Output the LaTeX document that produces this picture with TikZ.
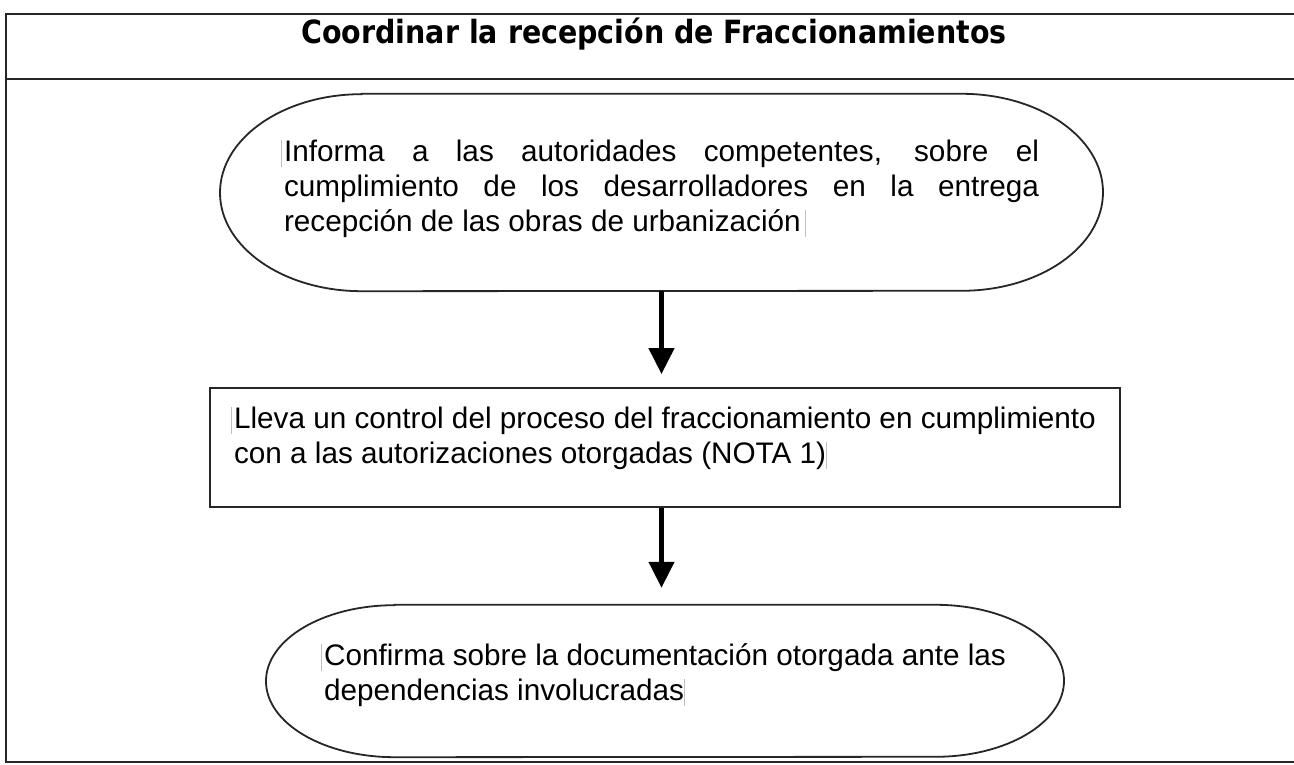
\documentclass[tikz,border=0pt]{standalone}
\usepackage{fontspec}
\setmainfont{Liberation Sans}
\newfontfamily\titlefont{DejaVu Sans}[FakeStretch=0.89]
\usetikzlibrary{arrows.meta}
\newcommand\cbar{\textcolor{black!25}{\rule[-5pt]{0.8pt}{27pt}}}
\begin{document}
\begin{tikzpicture}[x=1pt,y=1pt,
  frameline/.style={line width=1.8pt, draw=black!85},
  outline/.style={line width=1.8pt, draw=black!85},
  txt/.style={font=\fontsize{29.7pt}{35pt}\selectfont, align=left, inner sep=0pt},
  flowarrow/.style={line width=4.5pt, draw=black, -{Triangle[width=25pt,length=26pt]}},
]
\useasboundingbox[fill=white] (0,0) rectangle (1294,765);

% frame
\draw[frameline] (1294,751) -- (6,751) -- (6,3) -- (1294,3);
\draw[frameline] (6,686) -- (1294,686);

% title
\node[font=\titlefont\bfseries\fontsize{32pt}{38pt}\selectfont, anchor=base, inner sep=0pt] (title) at (654,721) {Coordinar la recepción de Fraccionamientos};

% top terminator
\node[txt, minimum width=883pt, minimum height=197pt] (t1) at (661.5,572.5)
 {\rule{0pt}{22pt}\llap{\cbar\hspace{2pt}}\makebox[755pt][s]{Informa a las autoridades competentes, sobre el}\\
  \makebox[755pt][s]{cumplimiento de los desarrolladores en la entrega}\\
  recepción de las obras de urbanización\hspace{4pt}\cbar\rule[-13pt]{0pt}{13pt}};
\draw[outline] ([xshift=-300pt]t1.north) -- ([xshift=300pt]t1.north)
  arc[start angle=90, end angle=-90, x radius=141.5pt, y radius=98.5pt]
  -- ([xshift=-300pt]t1.south)
  arc[start angle=270, end angle=90, x radius=141.5pt, y radius=98.5pt] -- cycle;

% process box
\node[txt, outline, draw, minimum width=910pt, minimum height=119pt] (t2) at (665,317.5)
 {\rule{0pt}{22pt}\llap{\cbar\hspace{2pt}}Lleva un control del proceso del fraccionamiento en cumplimiento\\
  con a las autorizaciones otorgadas (NOTA 1)\cbar\rule[-24pt]{0pt}{24pt}};

% bottom terminator
\node[txt, minimum width=798pt, minimum height=152pt] (t3) at (665,84)
 {\rule{0pt}{22pt}\llap{\cbar\hspace{2pt}}Confirma sobre la documentación otorgada ante las\\
  dependencias involucradas\cbar\rule[-17pt]{0pt}{17pt}};
\draw[outline] ([xshift=-270.5pt]t3.north) -- ([xshift=270.5pt]t3.north)
  arc[start angle=90, end angle=-90, x radius=128.5pt, y radius=76pt]
  -- ([xshift=-270.5pt]t3.south)
  arc[start angle=270, end angle=90, x radius=128.5pt, y radius=76pt] -- cycle;

% connectors
\draw[flowarrow, shorten >=13pt] (t1.south) -- (t1.south |- t2.north);
\draw[flowarrow, shorten >=17pt] (t2.south -| t1.south) -- (t1.south |- t3.north);
\end{tikzpicture}
\end{document}
